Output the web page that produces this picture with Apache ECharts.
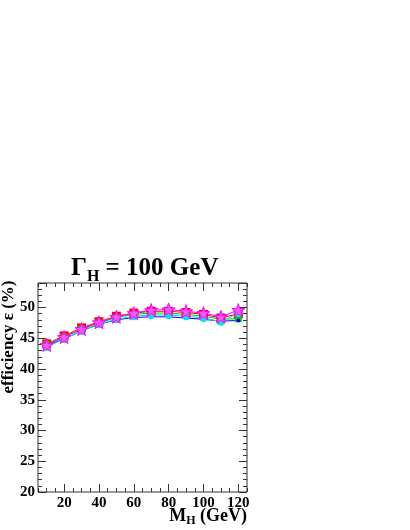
<!DOCTYPE html>
<html>
<head>
<meta charset="utf-8">
<script src="https://cdn.jsdelivr.net/npm/echarts@6/dist/echarts.min.js"></script>
<style>
  html, body { margin: 0; padding: 0; background: #fff; }
  #main { width: 410px; height: 530px; }
</style>
</head>
<body>
<div id="main"></div>
<script>
  // Higgs mass points (GeV)
  var massPoints = [10, 20, 30, 40, 50, 60, 70, 80, 90, 100, 110, 120]
  // efficiency (%) per series
  var effRed = [44.1, 45.4, 46.7, 47.7, 48.6, 49.1, 49.4, 49.4, 49.2, 48.9, 48.3, 49.0]
  var effGreen = [44.0, 45.2, 46.5, 47.5, 48.4, 48.9, 49.1, 49.1, 48.9, 48.6, 48.1, 48.2]
  var effBlue = [43.8, 44.9, 46.2, 47.3, 48.0, 48.4, 48.5, 48.5, 48.3, 48.1, 47.8, 47.9]
  var effCyan = [43.6, 44.9, 46.2, 47.3, 48.1, 48.6, 48.8, 48.8, 48.6, 48.3, 47.7, 49.1]
  var effMagenta = [43.9, 45.2, 46.5, 47.6, 48.5, 49.1, 49.6, 49.7, 49.4, 49.1, 48.5, 49.6]
  var xMajorTicks = [20, 40, 60, 80, 100, 120]

  var FONT = '"Liberation Serif", "DejaVu Serif", serif'
  var TICK = '#333'
  var STAR = 'path://M50,0 L61,35 L98,35 L68,57 L79,91 L50,70 L21,91 L32,57 L2,35 L39,35 Z'

  function pairs(ys) {
    return massPoints.map(function (x, i) { return [x, ys[i]] })
  }

  function xAxisDef(pos, major, labels) {
    return {
      type: 'value',
      position: pos,
      offset: 0,
      min: 5,
      max: 125,
      interval: 5,
      axisLine: { show: false },
      splitLine: { show: false },
      axisTick: major
        ? { show: true, inside: true, length: 8, customValues: xMajorTicks, lineStyle: { color: TICK } }
        : { show: true, inside: true, length: 4, lineStyle: { color: TICK } },
      axisLabel: labels
        ? {
            show: true,
            margin: 4,
            fontFamily: FONT,
            fontWeight: 'bold',
            fontSize: 15,
            color: '#000',
            formatter: function (v) { return (v % 20 === 0) ? String(v) : '' }
          }
        : { show: false }
    }
  }

  function yAxisDef(pos, major, labels) {
    return {
      type: 'value',
      position: pos,
      offset: 0,
      min: 20,
      max: 54,
      interval: major ? 5 : 1,
      axisLine: { show: false },
      splitLine: { show: false },
      axisTick: { show: true, inside: true, length: major ? 8 : 4, lineStyle: { color: TICK } },
      axisLabel: labels
        ? {
            show: true,
            margin: 3,
            fontFamily: FONT,
            fontWeight: 'bold',
            fontSize: 15,
            color: '#000',
            formatter: function (v) { return (v % 5 === 0) ? String(v) : '' }
          }
        : { show: false }
    }
  }

  function series(name, ys, color, symbol, size, fill) {
    return {
      name: name,
      type: 'line',
      data: pairs(ys),
      symbol: symbol,
      symbolSize: size,
      showAllSymbol: true,
      lineStyle: { color: color, width: 1 },
      itemStyle: { color: fill || color, borderColor: color, borderWidth: fill ? 1 : 0 },
      z: 3
    }
  }

  var chart = echarts.init(document.getElementById('main'), null, { renderer: 'canvas' })
  chart.setOption({
    backgroundColor: '#fff',
    animation: false,
    title: {
      text: '{g|Γ}{s|H}{g| = 100 GeV}',
      left: 66,
      top: 248,
      textStyle: {
        rich: {
          g: { fontFamily: FONT, fontWeight: 'bold', fontSize: 25, color: '#000', verticalAlign: 'bottom', lineHeight: 28 },
          s: { fontFamily: FONT, fontWeight: 'bold', fontSize: 16, color: '#000', verticalAlign: 'bottom', lineHeight: 28, padding: [0, 0, -4, 0] }
        }
      }
    },
    grid: {
      left: 38,
      right: 163,
      top: 283,
      bottom: 38,
      show: true,
      borderColor: '#333',
      borderWidth: 1,
      backgroundColor: 'transparent'
    },
    xAxis: [
      xAxisDef('bottom', false, true),
      xAxisDef('bottom', true, false),
      xAxisDef('top', false, false),
      xAxisDef('top', true, false)
    ],
    yAxis: [
      yAxisDef('left', true, true),
      yAxisDef('left', false, false),
      yAxisDef('right', true, false),
      yAxisDef('right', false, false)
    ],
    graphic: [
      {
        type: 'text',
        x: 9,
        y: 337,
        rotation: Math.PI / 2,
        style: {
          text: 'efficiency ε (%)',
          fontFamily: FONT,
          fontWeight: 'bold',
          fontSize: 17,
          fill: '#000',
          align: 'center',
          verticalAlign: 'middle'
        }
      },
      {
        type: 'text',
        right: 163,
        top: 507,
        style: {
          text: '{m|M}{s|H}{m| (GeV)}',
          rich: {
            m: { fontFamily: FONT, fontWeight: 'bold', fontSize: 18, fill: '#000', verticalAlign: 'bottom', lineHeight: 20 },
            s: { fontFamily: FONT, fontWeight: 'bold', fontSize: 12, fill: '#000', verticalAlign: 'bottom', lineHeight: 20, padding: [0, 0, -2, 0] }
          }
        }
      }
    ],
    series: [
      series('red', effRed, '#ff0000', 'rect', 9),
      series('green', effGreen, '#00cc00', 'rect', 7),
      series('blue', effBlue, '#0000ff', 'circle', 4),
      series('cyan', effCyan, '#00e5ee', 'circle', 8),
      series('magenta', effMagenta, '#ff00ff', STAR, 13, '#ff55ff')
    ]
  })
</script>
</body>
</html>
